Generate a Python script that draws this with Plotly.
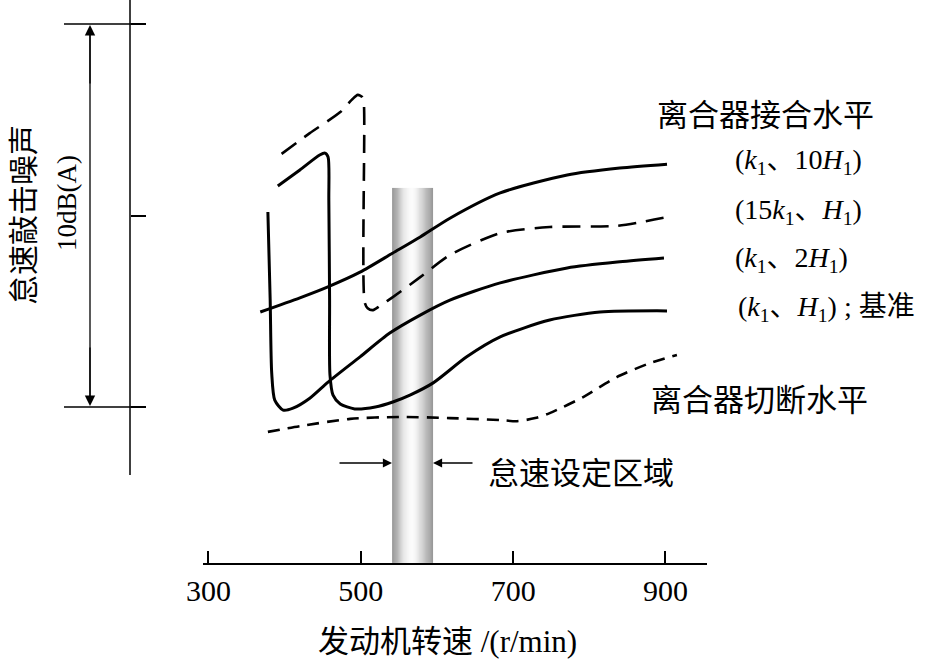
import numpy as np
import plotly.graph_objects as go

W, H = 928, 665

# ---------------- data (engine speed r/min, relative noise dB(A)) ----------------
rpm_ticks = [300, 500, 700, 900]
db_ticks = [0, 5, 10]

# (k1, 10H1) solid
a_x = [368, 420, 456, 499, 542, 578, 617, 683, 771, 840, 902]
a_y = [2.48, 2.85, 3.13, 3.52, 4.02, 4.44, 4.93, 5.59, 6.06, 6.24, 6.34]

# (15k1, H1) dashed
b_x = [396, 433, 473, 488, 496, 502, 504, 505, 509, 516, 525, 542, 578, 617, 683, 748, 836, 902]
b_y = [6.61, 7.15, 7.70, 8.02, 8.15, 8.09, 7.91, 2.74, 2.58, 2.53, 2.64, 2.87, 3.39, 3.97, 4.54, 4.70, 4.73, 4.96]

# (k1, 2H1) solid
c_x = [378, 381, 383, 387, 398, 411, 433, 457, 499, 538, 578, 617, 683, 771, 840, 898]
c_y = [5.09, 2.79, 0.89, 0.18, -0.08, -0.03, 0.23, 0.65, 1.31, 1.93, 2.40, 2.79, 3.24, 3.63, 3.79, 3.89]

# (k1, H1) baseline solid
d_x = [391, 420, 446, 453, 457, 458, 459, 459.5, 463.5, 473, 492, 519, 542, 564.5, 595, 639, 683, 748, 814, 902]
d_y = [5.77, 6.19, 6.58, 6.63, 6.53, 5.40, 2.79, 0.84, 0.31, 0.08, -0.05, 0.00, 0.13, 0.31, 0.63, 1.31, 1.83, 2.27, 2.48, 2.51]

# clutch disengaged level, short dashes
e_x = [378, 420, 486, 551, 617, 683, 705, 729, 748, 792, 836, 880, 915]
e_y = [-0.65, -0.50, -0.31, -0.26, -0.29, -0.34, -0.37, -0.29, -0.16, 0.26, 0.78, 1.15, 1.36]

# idle setting region (gray bar)
idle_x = [541, 595]
idle_top = 5.72
bar_shade = [0.62, 0.68, 0.75, 0.82, 0.88, 0.93, 0.96, 0.98, 0.985, 0.97,
             0.94, 0.90, 0.85, 0.80, 0.75, 0.70, 0.65, 0.60]

# ---------------- layout geometry ----------------
X_RANGE = [292.8, 954.5]
Y_RANGE = [-4.073, 10.627]
XDOM = [203 / W, 707 / W]
YDOM = [(H - 563) / H, 1.0]

SERIF = "Liberation Serif, Noto Sans CJK SC"
CJK = "Noto Sans CJK SC, Liberation Serif"


def P(px, py):
    return px / W, (H - py) / H


fig = go.Figure()

# gray bar as heatmap gradient
edges = np.linspace(idle_x[0], idle_x[1], len(bar_shade) + 1)
fig.add_trace(go.Heatmap(
    x=edges, y=[Y_RANGE[0], idle_top / 2, idle_top],
    z=[bar_shade, bar_shade],
    colorscale=[[0, "rgb(0,0,0)"], [1, "rgb(255,255,255)"]],
    zmin=0, zmax=1, showscale=False, zsmooth="best", hoverinfo="skip",
))

line_common = dict(color="black", shape="spline", smoothing=0.7)
fig.add_trace(go.Scatter(x=e_x, y=e_y, mode="lines",
                         line=dict(width=2.6, dash="12px,8px", **line_common)))
fig.add_trace(go.Scatter(x=d_x, y=d_y, mode="lines", line=dict(width=3, **line_common)))
fig.add_trace(go.Scatter(x=c_x, y=c_y, mode="lines", line=dict(width=3, **line_common)))
fig.add_trace(go.Scatter(x=b_x, y=b_y, mode="lines",
                         line=dict(width=2.6, dash="18px,10px", **line_common)))
fig.add_trace(go.Scatter(x=a_x, y=a_y, mode="lines", line=dict(width=3, **line_common)))

shapes = []
# left vertical axis line
x0, y0 = P(130, 0)
x1, y1 = P(130, 475)
shapes.append(dict(type="line", xref="paper", yref="paper", x0=x0, y0=y0, x1=x1, y1=y1,
                   line=dict(color="black", width=1.5)))
# extension lines at 0 and 10 dB
for py in (24, 407):
    a0, b0 = P(64, py)
    a1, b1 = P(145, py)
    shapes.append(dict(type="line", xref="paper", yref="paper", x0=a0, y0=b0, x1=a1, y1=b1,
                       line=dict(color="black", width=1.5)))
# dimension line body (arrowheads added as annotations)
d0x, d0y = P(90, 30)
d1x, d1y = P(90, 401)
shapes.append(dict(type="line", xref="paper", yref="paper", x0=d0x, y0=d0y, x1=d1x, y1=d1y,
                   line=dict(color="black", width=1.3)))

annotations = []
# dimension arrows 10 dB(A)
for py_tip, ay in ((25, 60), (406, -60)):
    ax_, ay_ = P(90, py_tip)
    annotations.append(dict(xref="paper", yref="paper", x=ax_, y=ay_, text="", showarrow=True,
                            ax=0, ay=ay, arrowhead=2, arrowsize=1.6, arrowwidth=1.3,
                            arrowcolor="black"))
# idle region arrows
for px_tip, ax in ((392, -54), (433, 41)):
    tx, ty = P(px_tip, 463)
    annotations.append(dict(xref="paper", yref="paper", x=tx, y=ty, text="", showarrow=True,
                            ax=ax, ay=0, arrowhead=2, arrowsize=1.4, arrowwidth=1.3,
                            arrowcolor="black"))


def label(text, px, py, size, family=SERIF, xanchor="left", angle=0):
    x, y = P(px, py)
    annotations.append(dict(xref="paper", yref="paper", x=x, y=y, text=text, showarrow=False,
                            xanchor=xanchor, yanchor="middle", textangle=angle,
                            font=dict(family=family, size=size, color="black")))


label("怠速敲击噪声", 21, 215, 30, family=CJK, xanchor="center", angle=-90)
label("10dB(A)", 67, 203, 27, xanchor="center", angle=-90)
label("离合器接合水平", 655, 113, 31, family=CJK)
label("(<i>k</i><sub>1</sub>、10<i>H</i><sub>1</sub>)", 733, 162, 28)
label("(15<i>k</i><sub>1</sub>、<i>H</i><sub>1</sub>)", 733, 212, 28)
label("(<i>k</i><sub>1</sub>、2<i>H</i><sub>1</sub>)", 733, 259, 28)
label("(<i>k</i><sub>1</sub>、<i>H</i><sub>1</sub>) ; 基准", 736, 308, 28)
label("离合器切断水平", 649, 397, 31, family=CJK)
label("怠速设定区域", 486, 471, 31, family=CJK)
label("发动机转速 /(r/min)", 447, 641, 31, xanchor="center")

fig.update_layout(
    width=W, height=H,
    margin=dict(l=0, r=0, t=0, b=0),
    paper_bgcolor="white", plot_bgcolor="white",
    showlegend=False,
    shapes=shapes, annotations=annotations,
    xaxis=dict(domain=XDOM, range=X_RANGE, tickvals=rpm_ticks, ticktext=[str(v) for v in rpm_ticks],
               ticks="inside", ticklen=12, tickwidth=1.5, tickcolor="black",
               showline=True, linecolor="black", linewidth=1.5, showgrid=False, zeroline=False,
               tickfont=dict(family=SERIF, size=30, color="black"), automargin=False,
               fixedrange=True),
    yaxis=dict(domain=YDOM, range=Y_RANGE, anchor="free", position=130 / W,
               tickvals=db_ticks, showticklabels=False, ticks="inside", ticklen=15,
               tickwidth=1.5, tickcolor="black", showline=False, showgrid=False,
               zeroline=False, automargin=False, fixedrange=True),
)

fig.write_html("out.html", config={"displayModeBar": False},
               post_script="document.body.style.margin='0px';")
